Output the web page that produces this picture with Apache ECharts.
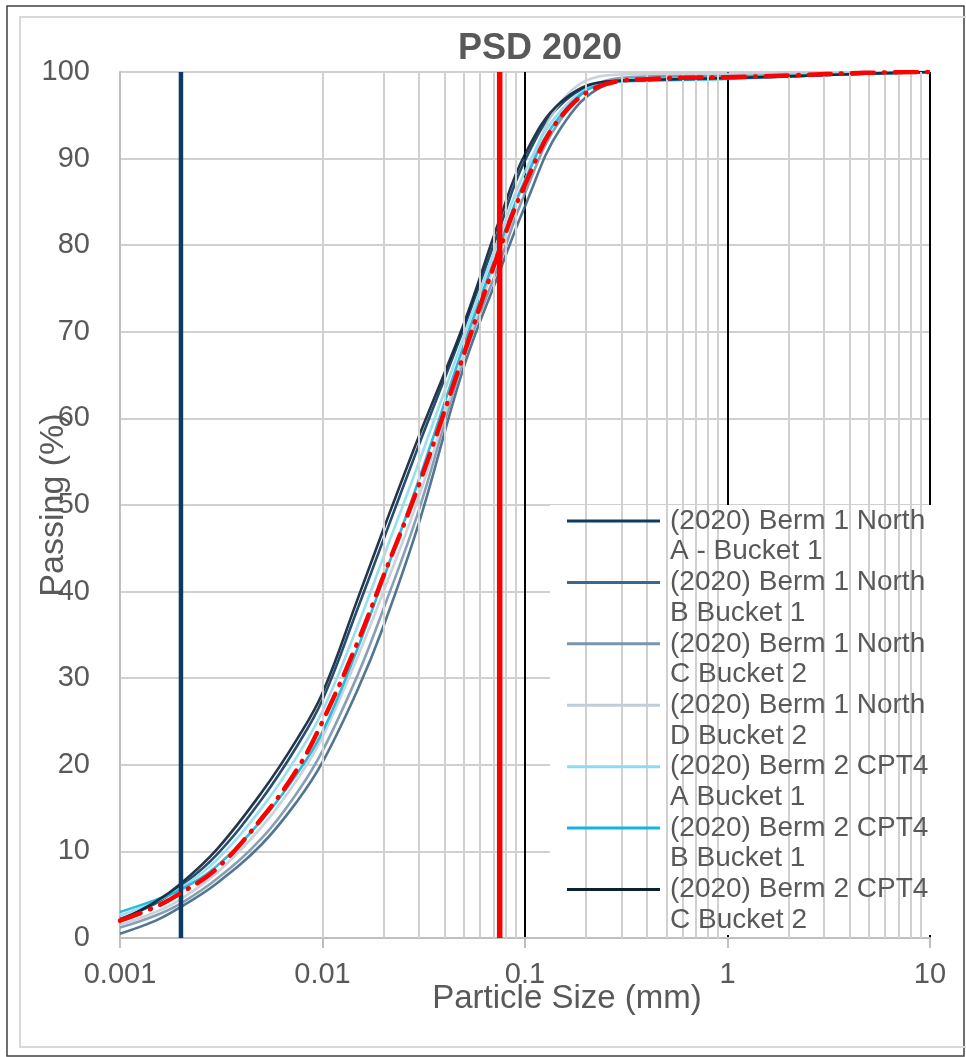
<!DOCTYPE html>
<html>
<head>
<meta charset="utf-8">
<title>PSD 2020</title>
<script src="https://cdn.jsdelivr.net/npm/echarts@6/dist/echarts.min.js"></script>
<style>
  html, body { margin: 0; padding: 0; background: #fff; }
  #psd { width: 966px; height: 1057px; }
</style>
</head>
<body>
<div id="psd"></div>
<script>
  var sizes = [0.001, 0.0015, 0.002, 0.003, 0.005, 0.0075, 0.01, 0.015, 0.02, 0.03, 0.05, 0.075, 0.1, 0.15, 0.25, 0.425, 1, 2, 4.75, 10];

  // passing (%) per sample
  var berm1NorthA = [2.2, 4.0, 6.0, 9.6, 16.0, 22.2, 27.5, 38.2, 46.0, 57.0, 70.5, 82.0, 89.8, 96.2, 98.8, 99.1, 99.3, 99.5, 99.8, 100];
  var berm1NorthB = [0.5, 2.0, 3.6, 6.3, 10.8, 15.8, 20.3, 28.8, 36.0, 48.0, 66.0, 77.0, 84.5, 93.5, 98.5, 99.3, 99.5, 99.7, 99.9, 100];
  var berm1NorthC = [1.2, 2.6, 4.0, 6.8, 11.5, 16.8, 21.6, 30.5, 38.0, 49.5, 67.0, 78.0, 86.0, 94.5, 99.0, 99.5, 99.6, 99.8, 99.9, 100];
  var berm1NorthD = [1.5, 3.0, 4.5, 7.5, 12.8, 18.3, 23.2, 32.6, 40.0, 51.0, 67.5, 79.5, 87.5, 96.5, 99.6, 99.8, 99.8, 99.9, 100, 100];
  var berm2Cpt4A = [2.6, 4.2, 5.8, 9.0, 15.0, 21.0, 26.2, 36.2, 44.0, 55.0, 69.5, 81.0, 88.5, 95.5, 98.8, 99.2, 99.3, 99.5, 99.8, 100];
  var berm2Cpt4B = [3.0, 4.4, 5.6, 8.3, 13.6, 19.0, 23.8, 33.6, 41.5, 53.0, 68.5, 80.0, 87.5, 95.0, 98.7, 99.0, 99.2, 99.5, 99.8, 100];
  var berm2Cpt4C = [2.0, 4.2, 6.3, 10.2, 16.8, 23.0, 28.3, 39.3, 47.2, 58.0, 71.0, 83.0, 90.5, 96.5, 98.9, 99.1, 99.3, 99.5, 99.8, 100];
  var average = [2.0, 3.6, 5.2, 8.0, 13.8, 19.5, 25.0, 34.3, 41.8, 52.4, 67.5, 79.5, 87.0, 94.8, 98.6, 99.2, 99.4, 99.6, 99.9, 100];

  var names = [
    '(2020) Berm 1 North A - Bucket 1',
    '(2020) Berm 1 North B Bucket 1',
    '(2020) Berm 1 North C Bucket 2',
    '(2020) Berm 1 North D Bucket 2',
    '(2020) Berm 2 CPT4 A Bucket 1',
    '(2020) Berm 2 CPT4 B Bucket 1',
    '(2020) Berm 2 CPT4 C Bucket 2'
  ];
  var curves = [berm1NorthA, berm1NorthB, berm1NorthC, berm1NorthD, berm2Cpt4A, berm2Cpt4B, berm2Cpt4C];
  var colors = ['#0f3b62', '#3f6686', '#7b95ad', '#c1ced9', '#8ddcee', '#12b5dc', '#0c2035'];

  // clay / silt boundaries (mm)
  var clayLimit = 0.002;
  var siltLimit = 0.075;

  var xTickLabels = ['0.001', '0.01', '0.1', '1', '10'];
  var minorGrid = [0.002, 0.003, 0.004, 0.005, 0.006, 0.007, 0.008, 0.009,
                   0.02, 0.03, 0.04, 0.05, 0.06, 0.07, 0.08, 0.09,
                   0.2, 0.3, 0.4, 0.5, 0.6, 0.7, 0.8, 0.9,
                   2, 3, 4, 5, 6, 7, 8, 9];

  var font = 'Liberation Sans, Arial, sans-serif';
  var grey = '#595959';

  function pairs(ys) {
    return sizes.map(function (s, i) { return [s, ys[i]]; });
  }

  var series = [];
  // minor log gridlines
  series.push({
    name: 'grid', type: 'line', data: [], silent: true, z: 1,
    markLine: {
      silent: true, symbol: 'none', animation: false,
      label: { show: false },
      lineStyle: { color: '#d0d0d0', width: 2, type: 'solid' },
      emphasis: { disabled: true },
      data: minorGrid.map(function (v) { return { xAxis: v }; })
    }
  });
  curves.forEach(function (ys, i) {
    series.push({
      name: names[i], type: 'line', data: pairs(ys), smooth: 0.4, symbol: 'none', z: 3,
      lineStyle: { color: colors[i], width: 2.6, opacity: 0.9 },
      itemStyle: { color: colors[i] }
    });
  });
  series.push({
    name: 'clay', type: 'line', data: [[clayLimit, 0], [clayLimit, 100]], symbol: 'none', z: 5,
    lineStyle: { color: '#0b3a64', width: 4.5 }
  });
  series.push({
    name: 'silt', type: 'line', data: [[siltLimit, 0], [siltLimit, 100]], symbol: 'none', z: 5,
    lineStyle: { color: '#ff0000', width: 5.5 }
  });
  series.push({
    name: 'Average', type: 'line', data: pairs(average), smooth: 0.4, symbol: 'none', z: 6,
    lineStyle: { color: '#ff0000', width: 4.5, type: [22, 10, 1, 10], cap: 'round' }
  });

  var chart = echarts.init(document.getElementById('psd'));
  chart.setOption({
    animation: false,
    textStyle: { fontFamily: font },
    title: {
      text: 'PSD 2020', left: 453, top: 26,
      textStyle: { fontFamily: font, fontWeight: 'bold', fontSize: 36, color: grey }
    },
    grid: { left: 120, right: 36, top: 72, bottom: 119, containLabel: false, outerBoundsMode: 'none' },
    xAxis: {
      type: 'log', logBase: 10, min: 0.001, max: 10,
      name: 'Particle Size (mm)', nameLocation: 'middle', nameGap: 44, nameMoveOverlap: false,
      nameTextStyle: { fontFamily: font, fontSize: 33, color: grey, padding: [0, 0, 0, 84] },
      axisLine: { show: true, onZero: false, lineStyle: { color: '#bfbfbf', width: 2 } },
      axisTick: { show: true, length: 10, lineStyle: { color: '#bfbfbf', width: 2 } },
      axisLabel: {
        fontFamily: font, fontSize: 29, color: grey, margin: 22,
        formatter: function (v, i) { return xTickLabels[i]; }
      },
      splitLine: { show: true, lineStyle: { color: ['#bfbfbf', '#000', '#000', '#000', '#000'], width: 2 } }
    },
    yAxis: {
      type: 'value', min: 0, max: 100, interval: 10,
      name: 'Passing (%)', nameLocation: 'middle', nameGap: 49, nameMoveOverlap: false,
      nameTextStyle: { fontFamily: font, fontSize: 34, color: grey },
      axisLine: { show: true, lineStyle: { color: '#bfbfbf', width: 2 } },
      axisTick: { show: false },
      axisLabel: { fontFamily: font, fontSize: 29, color: grey, margin: 30 },
      splitLine: { lineStyle: { color: '#d0d0d0', width: 2 } }
    },
    legend: {
      data: names, orient: 'vertical', left: 567, top: 475, padding: 0,
      icon: 'rect', itemWidth: 93, itemHeight: 3, itemGap: -30.7, z: 10,
      selectedMode: false,
      // leading blank line keeps the swatch level with the first text line
      formatter: function (name) { return ' \n' + name.replace(/(North|CPT4) /, '$1\n'); },
      textStyle: { fontFamily: font, fontSize: 28, color: grey, lineHeight: 30.7, padding: [0, 0, 0, 5] }
    },
    graphic: [
      { type: 'rect', silent: true, z: 0, shape: { x: 7, y: 6, width: 957, height: 1050 },
        style: { fill: 'none', stroke: '#404040', lineWidth: 1.5 } },
      { type: 'rect', silent: true, z: 0, shape: { x: 20, y: 17, width: 960, height: 1030 },
        style: { fill: 'none', stroke: '#d9d9d9', lineWidth: 2 } },
      { type: 'rect', silent: true, z: 4, shape: { x: 550, y: 505, width: 395, height: 430 },
        style: { fill: '#ffffff' } }
    ],
    series: series
  });
</script>
</body>
</html>
